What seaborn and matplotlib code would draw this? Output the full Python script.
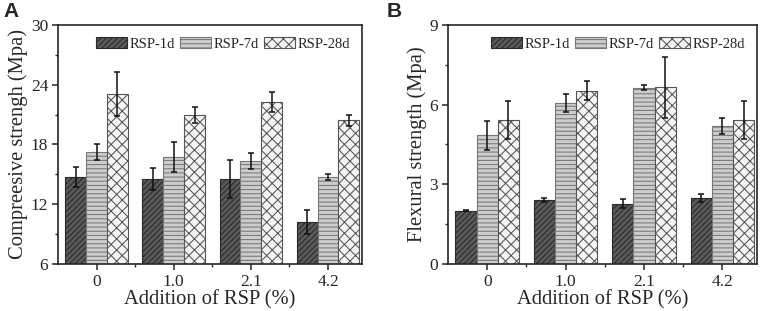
import numpy as np
import pandas as pd
import matplotlib
matplotlib.use("Agg")
import matplotlib.pyplot as plt
import seaborn as sns
from matplotlib.ticker import MultipleLocator

# values
additions = ["0", "1.0", "2.1", "4.2"]
ages = ["RSP-1d", "RSP-7d", "RSP-28d"]

comp_1d = [14.7, 14.5, 14.55, 10.25]
comp_7d = [17.2, 16.7, 16.3, 14.75]
comp_28d = [23.1, 21.0, 22.3, 20.45]
comp_err_1d = [1.0, 1.1, 1.9, 1.2]
comp_err_7d = [0.8, 1.5, 0.8, 0.3]
comp_err_28d = [2.2, 0.8, 1.0, 0.55]

flex_1d = [2.01, 2.42, 2.27, 2.5]
flex_7d = [4.84, 6.05, 6.64, 5.2]
flex_28d = [5.42, 6.53, 6.65, 5.42]
flex_err_1d = [0.03, 0.08, 0.17, 0.15]
flex_err_7d = [0.55, 0.34, 0.1, 0.3]
flex_err_28d = [0.7, 0.37, 1.14, 0.7]

sns.set_style("ticks")
plt.rcParams["font.family"] = ["Liberation Serif", "DejaVu Serif"]
plt.rcParams["hatch.linewidth"] = 0.75

faces = ["#5a5a5a", "#cdcdcd", "#f4f4f4"]
edges = ["#2a2a2a", "#777777", "#555555"]
hatches = ["//////", "----", "xxx"]


def make_df(v1, v7, v28, e1, e7, e28):
    rows = []
    for vals, errs, age in [(v1, e1, ages[0]), (v7, e7, ages[1]), (v28, e28, ages[2])]:
        for a, v, e in zip(additions, vals, errs):
            rows.append({"add": a, "age": age, "val": v, "err": e})
    return pd.DataFrame(rows)


def draw(ax, df, ylim, step, ylabel, leg_x):
    sns.barplot(data=df, x="add", y="val", hue="age", order=additions,
                hue_order=ages, errorbar=None, width=0.81, ax=ax,
                saturation=1, linewidth=0.8)
    bars = list(ax.containers)
    for i, cont in enumerate(bars):
        sub = df[df["age"] == ages[i]].set_index("add").loc[additions]
        xs = []
        for bar in cont:
            bar.set_facecolor(faces[i])
            bar.set_edgecolor(edges[i])
            bar.set_hatch(hatches[i])
            xs.append(bar.get_x() + bar.get_width() / 2)
        ax.errorbar(xs, sub["val"].values, yerr=sub["err"].values, fmt="none",
                    ecolor="#111111", elinewidth=1.1, capsize=2.5, capthick=1.1)
    ax.set_ylim(*ylim)
    ax.set_xlim(-0.5, 3.44)
    ax.yaxis.set_major_locator(MultipleLocator(step))
    ax.yaxis.set_minor_locator(MultipleLocator(step / 2))
    ax.set_xticks([0, 1, 2, 3], minor=False)
    ax.set_xticks([0.5, 1.5, 2.5], minor=True)
    ax.tick_params(which="major", length=4, width=1.1, labelsize=12.5, pad=3)
    ax.tick_params(which="minor", length=2.5, width=1.0)
    for s in ax.spines.values():
        s.set_linewidth(1.2)
        s.set_visible(True)
    ax.set_xlabel("Addition of RSP (%)", fontsize=14.8, labelpad=0)
    ax.set_ylabel(ylabel, fontsize=14.8, labelpad=2)
    leg = ax.legend(loc="upper right", bbox_to_anchor=(leg_x, 0.975), ncol=3,
                    frameon=False, fontsize=10.5, handlelength=2.1,
                    handleheight=0.85, handletextpad=0.2, columnspacing=0.35,
                    borderaxespad=0)
    for i, h in enumerate(leg.legend_handles):
        h.set_facecolor(faces[i])
        h.set_edgecolor(edges[i])
        h.set_hatch(hatches[i])
        h.set_linewidth(0.8)


fig = plt.figure(figsize=(7.61, 3.11), dpi=100)
axA = fig.add_axes([0.0762, 0.151, 0.3995, 0.769])
axB = fig.add_axes([0.5887, 0.151, 0.406, 0.769])

draw(axA, make_df(comp_1d, comp_7d, comp_28d, comp_err_1d, comp_err_7d, comp_err_28d),
     (6, 30), 6, "Compreesive strengh (Mpa)", 0.98)
draw(axB, make_df(flex_1d, flex_7d, flex_28d, flex_err_1d, flex_err_7d, flex_err_28d),
     (0, 9), 3, "Flexural strength (Mpa)", 0.98)

fig.text(0.004, 0.995, "A", fontsize=15, fontweight="bold", va="top", ha="left",
         family="Liberation Sans")
fig.text(0.508, 0.995, "B", fontsize=15, fontweight="bold", va="top", ha="left",
         family="Liberation Sans")

fig.savefig("out.png", dpi=100)
